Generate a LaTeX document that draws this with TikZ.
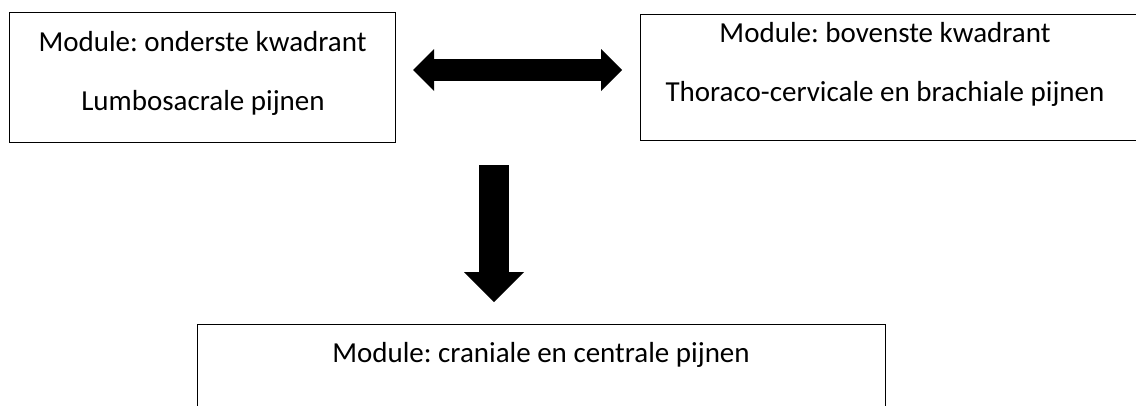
\documentclass[tikz,border=0pt]{standalone}
\usepackage{fontspec}
\setmainfont{Carlito}
\usepackage{tikz}
\usetikzlibrary{arrows.meta}
\frenchspacing

\begin{document}
\begin{tikzpicture}[x=1pt,y=-1pt]
		\path[use as bounding box,clip] (0,0) rectangle (1136,405);

		\begin{scope}[every node/.style={rectangle,draw=black,line width=1pt,inner sep=0pt}]
		    \node[minimum width=385.5pt,minimum height=130pt] (onder) at (202.7,77.7) {};
		    \node[minimum width=497pt,minimum height=126pt] (boven) at (888.5,77) {};
		    \node[minimum width=688pt,minimum height=96pt] (centraal) at (541,372) {};
		\end{scope}

		\begin{scope}[every node/.style={anchor=base,inner sep=0pt,font=\fontsize{29}{35}\selectfont}]
		    \node (onder-1) at (202.5,51) {Module: onderste kwadrant};
		    \node (onder-2) at (203,110) {Lumbosacrale pijnen};
		    \node (boven-1) at (885,42.5) {Module: bovenste kwadrant};
		    \node (boven-2) at (885,101) {Thoraco-cervicale en brachiale pijnen};
		    \node (centraal-1) at (541,362) {Module: craniale en centrale pijnen};
		\end{scope}

		\coordinate (links) at (413,70);
		\coordinate (rechts) at (622,70);
		\coordinate (pijl-top) at (494,165);
		\coordinate (pijl-punt) at (494,302);

		\begin{scope}[every edge/.style={draw=black}]
		    \path (links) edge[line width=22pt,{Triangle[length=21pt,width=42pt,line width=0pt 0 0]}-{Triangle[length=21pt,width=42pt,line width=0pt 0 0]}] (rechts);
		    \path (pijl-top) edge[line width=30pt,-{Triangle[length=30pt,width=60pt,line width=0pt 0 0]}] (pijl-punt);
		\end{scope}
\end{tikzpicture}
\end{document}
